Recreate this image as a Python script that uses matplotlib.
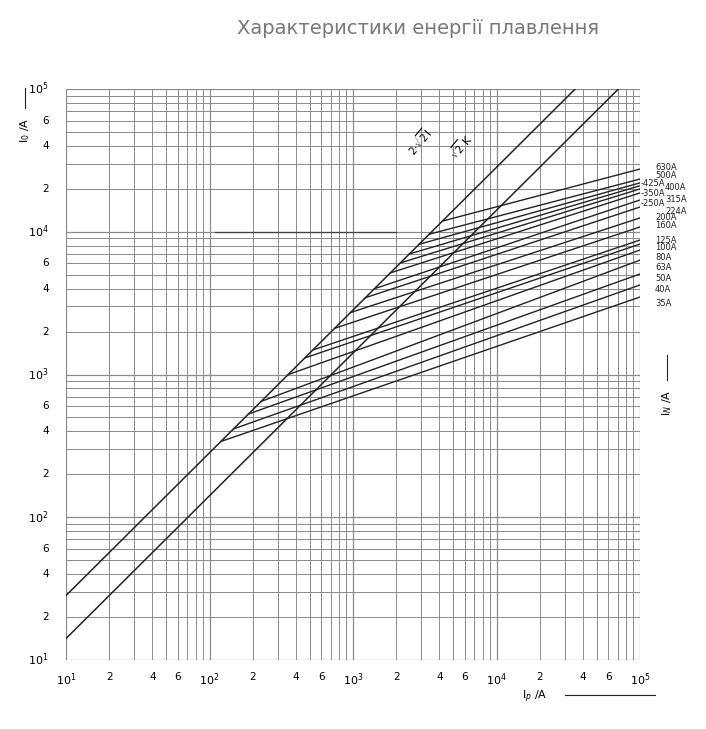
import numpy as np
import matplotlib.pyplot as plt
from matplotlib.ticker import NullLocator

# fuse ratings, start current on the 2*sqrt(2) line, cut-off value at Ip=1e5
ratings = ['35A', '40A', '50A', '63A', '80A', '100A', '125A', '160A', '200A',
           '224A', '250A', '315A', '350A', '400A', '425A', '500A', '630A']
x_start = [120, 147, 187, 229, 353, 462, 525, 745, 960, 1220, 1410, 1820, 2140, 2470, 2890, 3400, 4200]
y_end = [3490, 4240, 5060, 6330, 7450, 8200, 8750, 10800, 12500, 14900, 16700,
         18700, 19950, 21000, 22000, 23400, 27500]
# label column (0 = left with dash, 1 = middle, 2 = right) and row in pixels
label_col = [1, 1, 1, 1, 1, 1, 1, 1, 1, 2, 0, 2, 0, 2, 0, 1, 1]
label_row = [303, 290, 279, 268, 257, 247, 240, 226, 217, 211, 204, 199, 194, 188, 184, 176, 167]

W, H = 706, 729
fig = plt.figure(figsize=(W / 100, H / 100), dpi=100)
ax = fig.add_axes([66 / W, 1 - 660 / H, 574 / W, 571 / H])
ax.set_xscale('log')
ax.set_yscale('log')
ax.set_xlim(10, 1e5)
ax.set_ylim(10, 1e5)

# grid
for d in range(1, 5):
    for m in range(1, 10):
        v = m * 10 ** d
        ax.axvline(v, color='#8a8a8a', lw=0.9 if m == 1 else 0.7, zorder=0)
        ax.axhline(v, color='#8a8a8a', lw=0.9 if m == 1 else 0.7, zorder=0)
ax.axvline(1e5, color='#8a8a8a', lw=0.9)
ax.axhline(1e5, color='#8a8a8a', lw=0.9)

xs = np.array([10, 1e5])
ax.plot(xs, 2 * np.sqrt(2) * xs, color='#222', lw=1.1)
ax.plot(xs, np.sqrt(2) * xs, color='#222', lw=1.1)
ax.plot([110, 2000], [10000, 10000], color='#444', lw=0.9)

for r, x0, y1 in zip(ratings, x_start, y_end):
    ax.plot([x0, 1e5], [2 * np.sqrt(2) * x0, y1], color='#222', lw=1.0)

col_px = {0: 641, 1: 655, 2: 665}
for r, c, py in zip(ratings, label_col, label_row):
    fig.text(col_px[c] / W, 1 - py / H, ('-' if c == 0 else '') + r, fontsize=6,
             ha='left', va='center', color='#222')

ax.text(2.9e3, 4.3e4, r'2·$\sqrt{2}$I', rotation=50, fontsize=7.5, ha='center', va='center')
ax.text(5.6e3, 4.0e4, r'$\sqrt{2}$ K', rotation=50, fontsize=7.5, ha='center', va='center')

for s in ax.spines.values():
    s.set_visible(False)
for a in (ax.xaxis, ax.yaxis):
    a.set_major_locator(NullLocator())
    a.set_minor_locator(NullLocator())

# tick labels
for d in range(1, 6):
    v = 10 ** d
    ax.text(v, 8.3, r'$10^{%d}$' % d, ha='center', va='top', fontsize=8)
    ax.text(7.6, v, r'$10^{%d}$' % d, ha='right', va='center', fontsize=8)
    if d < 5:
        for m in (2, 4, 6):
            ax.text(m * v, 8.3, str(m), ha='center', va='top', fontsize=7.5)
            ax.text(7.6, m * v, str(m), ha='right', va='center', fontsize=7.5)

# axis titles with arrows
fig.text(25 / W, 1 - 130 / H, r'I$_0$ /A', rotation=90, fontsize=8, ha='center', va='center')
fig.add_artist(plt.Line2D([25 / W, 25 / W], [1 - 108 / H, 1 - 88 / H], color='#222', lw=0.8))
fig.text(535 / W, 1 - 697 / H, r'I$_p$ /A', fontsize=8, ha='center', va='center')
fig.add_artist(plt.Line2D([565 / W, 655 / W], [1 - 695 / H, 1 - 695 / H], color='#222', lw=0.8))
fig.text(667 / W, 1 - 403 / H, r'I$_N$ /A', rotation=90, fontsize=8, ha='center', va='center')
fig.add_artist(plt.Line2D([667 / W, 667 / W], [1 - 380 / H, 1 - 355 / H], color='#222', lw=0.8))

fig.text(418 / W, 1 - 28 / H, 'Характеристики енергії плавлення', fontsize=14,
         color='#777777', ha='center', va='center')
fig.savefig('out.png', dpi=100)
